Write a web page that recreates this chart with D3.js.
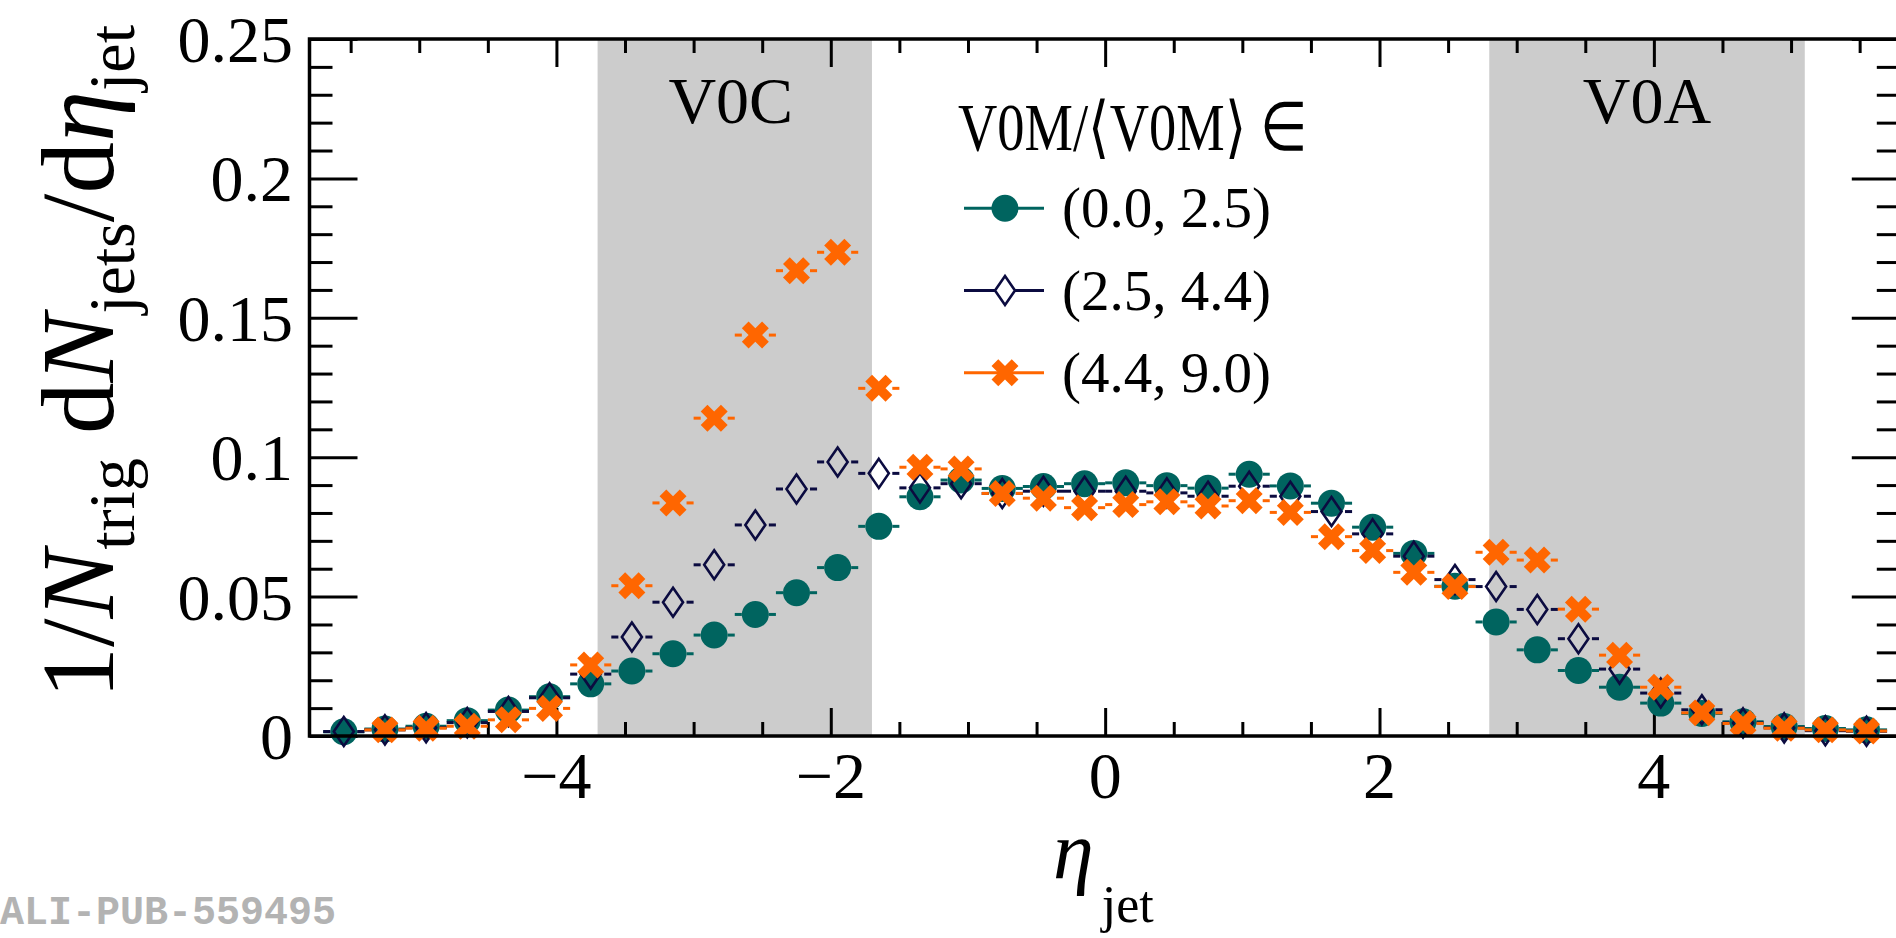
<!DOCTYPE html>
<html><head><meta charset="utf-8">
<script src="https://cdn.jsdelivr.net/npm/d3@7"></script>
<style>
html,body{margin:0;padding:0;background:#fff;overflow:hidden}
svg{display:block}
.serif{font-family:"Liberation Serif","Times New Roman",serif}
.mono{font-family:"Liberation Mono","Courier New",monospace}
</style></head><body>
<svg id="chart" width="1896" height="938"></svg>
<script>
// ---------------- data ----------------
const etaCenters = [-5.55,-5.25,-4.95,-4.65,-4.35,-4.05,-3.75,-3.45,-3.15,-2.85,-2.55,-2.25,-1.95,-1.65,-1.35,-1.05,-0.75,-0.45,-0.15,
                     0.15,0.45,0.75,1.05,1.35,1.65,1.95,2.25,2.55,2.85,3.15,3.45,3.75,4.05,4.35,4.65,4.95,5.25,5.55];
const binHalfWidth = 0.15;
const seriesLabels = ["(0.0, 2.5)", "(2.5, 4.4)", "(4.4, 9.0)"];
const valsLow  = [0.0015,0.0025,0.0035,0.0055,0.0093,0.0141,0.0187,0.0233,0.0295,0.0362,0.0436,0.0514,0.0604,0.0752,0.0858,0.0918,0.0888,0.0895,0.0905,
                  0.0908,0.0898,0.0889,0.0939,0.0897,0.0835,0.0749,0.0655,0.0537,0.0409,0.0309,0.0235,0.0175,0.0118,0.0081,0.0051,0.0034,0.0027,0.0022];
const valsMid  = [0.0016,0.0022,0.0030,0.0048,0.0088,0.0137,0.0222,0.0355,0.0480,0.0614,0.0757,0.0886,0.0983,0.0942,0.0890,0.0905,0.0870,0.0878,0.0878,
                  0.0878,0.0872,0.0860,0.0896,0.0860,0.0805,0.0725,0.0645,0.0561,0.0536,0.0454,0.0349,0.0240,0.0154,0.0094,0.0047,0.0029,0.0019,0.0017];
const valsHigh = [null,0.0022,0.0028,0.0035,0.0058,0.0099,0.0255,0.0539,0.0836,0.1140,0.1438,0.1669,0.1735,0.1247,0.0964,0.0958,0.0870,0.0853,0.0819,
                  0.0830,0.0840,0.0825,0.0844,0.0802,0.0715,0.0665,0.0587,0.0536,0.0659,0.0631,0.0455,0.0290,0.0175,0.0083,0.0045,0.0028,0.0022,0.0018];
const detectorNames = ["V0C", "V0A"];
const detectorLo = [-3.7, 2.8];
const detectorHi = [-1.7, 5.1];
const xMajorTicks = [-4, -2, 0, 2, 4];
const xTickLabels = ["\u22124", "\u22122", "0", "2", "4"];
const yMajorTicks = [0, 0.05, 0.1, 0.15, 0.2, 0.25];
const yTickLabels = ["0", "0.05", "0.1", "0.15", "0.2", "0.25"];
const xMinorTicks = [-5.5,-5,-4.5,-3.5,-3,-2.5,-1.5,-1,-0.5,0.5,1,1.5,2.5,3,3.5,4.5,5,5.5];
const yMinorTicks = [0.01,0.02,0.03,0.04,0.06,0.07,0.08,0.09,0.11,0.12,0.13,0.14,0.16,0.17,0.18,0.19,0.21,0.22,0.23,0.24];

// ---------------- style ----------------
const C_TEAL = "#00645f", C_NAVY = "#0b0b40", C_ORANGE = "#ff6600", C_BAND = "#cccccc";
const svg = d3.select("#chart");
const x = d3.scaleLinear().domain([-5.8, 5.8]).range([309.5, 1900.8]);
const y = d3.scaleLinear().domain([0, 0.25]).range([736, 39]);
const X0 = x.range()[0], X1 = x.range()[1], Y0 = y.range()[0], Y1 = y.range()[1];

// detector bands
svg.append("g").selectAll("rect").data(detectorNames).join("rect")
  .attr("x", (d,i) => x(detectorLo[i])).attr("width", (d,i) => x(detectorHi[i]) - x(detectorLo[i]))
  .attr("y", Y1).attr("height", Y0 - Y1).attr("fill", C_BAND);
svg.append("g").selectAll("text").data(detectorNames).join("text").attr("class", "serif")
  .attr("x", (d,i) => x((detectorLo[i] + detectorHi[i]) / 2) - (i === 0 ? 4 : 0)).attr("y", 123)
  .attr("text-anchor", "middle").attr("font-size", 66).text(d => d);

// axes (ticks)
function styleAxis(g) { g.select(".domain").remove(); g.selectAll("line").attr("stroke", "#000").attr("stroke-width", 3); }
svg.append("g").attr("transform", `translate(0,${Y0})`).call(d3.axisBottom(x).tickValues(xMinorTicks).tickSize(-14).tickFormat("")).call(styleAxis);
svg.append("g").attr("transform", `translate(0,${Y0})`).call(d3.axisBottom(x).tickValues(xMajorTicks).tickSize(-28).tickFormat("")).call(styleAxis);
svg.append("g").attr("transform", `translate(0,${Y1})`).call(d3.axisTop(x).tickValues(xMinorTicks).tickSize(-14).tickFormat("")).call(styleAxis);
svg.append("g").attr("transform", `translate(0,${Y1})`).call(d3.axisTop(x).tickValues(xMajorTicks).tickSize(-28).tickFormat("")).call(styleAxis);
svg.append("g").attr("transform", `translate(${X0},0)`).call(d3.axisLeft(y).tickValues(yMinorTicks).tickSize(-23).tickFormat("")).call(styleAxis);
svg.append("g").attr("transform", `translate(${X0},0)`).call(d3.axisLeft(y).tickValues(yMajorTicks).tickSize(-48).tickFormat("")).call(styleAxis);
svg.append("g").attr("transform", `translate(${X1},0)`).call(d3.axisRight(y).tickValues(yMinorTicks).tickSize(-24).tickFormat("")).call(styleAxis);
svg.append("g").attr("transform", `translate(${X1},0)`).call(d3.axisRight(y).tickValues(yMajorTicks).tickSize(-49).tickFormat("")).call(styleAxis);

// tick labels
svg.append("g").selectAll("text").data(xMajorTicks).join("text").attr("class", "serif")
  .attr("x", d => x(d)).attr("y", 798).attr("text-anchor", "middle").attr("font-size", 66)
  .text((d,i) => xTickLabels[i]);
svg.append("g").selectAll("text").data(yMajorTicks).join("text").attr("class", "serif")
  .attr("x", 293).attr("y", d => y(d) + 23).attr("text-anchor", "end").attr("font-size", 66)
  .text((d,i) => yTickLabels[i]);

// data series
const series = [
  {vals: valsLow,  color: C_TEAL,   shape: "circle"},
  {vals: valsMid,  color: C_NAVY,   shape: "diamond"},
  {vals: valsHigh, color: C_ORANGE, shape: "x"}
];
const MARK_HALF = 13.5;
const circlePath = d3.symbol().type(d3.symbolCircle).size(Math.PI * MARK_HALF * MARK_HALF)();
const crossPath = d3.symbol().type(d3.symbolCross).size(5 * Math.pow(28.6 / 3, 2))();
const diamondPath = "M0,-14.5L10,0L0,14.5L-10,0Z";
function drawMarker(g, shape, color) {
  if (shape === "circle") g.append("path").attr("d", circlePath).attr("fill", color);
  else if (shape === "diamond") g.append("path").attr("d", diamondPath).attr("fill", "none").attr("stroke", color).attr("stroke-width", 2.6).attr("stroke-linejoin", "miter");
  else g.append("path").attr("d", crossPath).attr("transform", "rotate(45)").attr("fill", color);
}
series.forEach(s => {
  const pts = etaCenters.map((e, i) => ({e, v: s.vals[i]})).filter(p => p.v !== null);
  const g = svg.append("g");
  // horizontal (bin-width) error bars, with a gap for the marker
  g.selectAll("line.l").data(pts).join("line")
    .attr("x1", p => x(p.e - binHalfWidth)).attr("x2", p => x(p.e) - MARK_HALF)
    .attr("y1", p => y(p.v)).attr("y2", p => y(p.v)).attr("stroke", s.color).attr("stroke-width", 3);
  g.selectAll("line.r").data(pts).join("line")
    .attr("x1", p => x(p.e) + MARK_HALF).attr("x2", p => x(p.e + binHalfWidth))
    .attr("y1", p => y(p.v)).attr("y2", p => y(p.v)).attr("stroke", s.color).attr("stroke-width", 3);
  pts.forEach(p => {
    const m = g.append("g").attr("transform", `translate(${x(p.e)},${y(p.v)})`);
    drawMarker(m, s.shape, s.color);
  });
});

// frame
svg.append("rect").attr("x", X0).attr("y", Y1).attr("width", X1 - X0).attr("height", Y0 - Y1)
  .attr("fill", "none").attr("stroke", "#000").attr("stroke-width", 3.5);

// legend
const lg = svg.append("g");
lg.append("text").attr("class", "serif").attr("x", 958).attr("y", 150).attr("font-size", 68)
  .attr("textLength", 349).attr("lengthAdjust", "spacingAndGlyphs")
  .text("V0M/\u27E8V0M\u27E9 \u2208");
series.forEach((s, i) => {
  const cy = 208.3 + 82.2 * i;
  lg.append("line").attr("x1", 964).attr("x2", 1005 - (s.shape === "diamond" ? 10 : 0)).attr("y1", cy).attr("y2", cy).attr("stroke", s.color).attr("stroke-width", 3);
  lg.append("line").attr("x1", 1005 + (s.shape === "diamond" ? 10 : 0)).attr("x2", 1044).attr("y1", cy).attr("y2", cy).attr("stroke", s.color).attr("stroke-width", 3);
  drawMarker(lg.append("g").attr("transform", `translate(1005,${cy})`), s.shape, s.color);
  lg.append("text").attr("class", "serif").attr("x", 1062).attr("y", cy + 19).attr("font-size", 57).text(seriesLabels[i]);
});

// x-axis title
const xt = svg.append("text").attr("class", "serif").attr("x", 1053).attr("y", 878).attr("font-size", 82);
xt.append("tspan").attr("font-style", "italic").text("\u03B7");
xt.append("tspan").attr("font-size", 52).attr("dy", 44).attr("dx", 8).text("jet");

// y-axis title
const F = 103, S = 66, SUB = 21;
const yt = svg.append("text").attr("class", "serif").attr("transform", `translate(113,${Y1 - 14}) rotate(-90)`)
  .attr("text-anchor", "end").attr("font-size", F);
yt.append("tspan").text("1/");
yt.append("tspan").attr("font-style", "italic").text("N");
yt.append("tspan").attr("font-size", S).attr("dy", SUB).text("trig");
yt.append("tspan").attr("dy", -SUB).attr("dx", 24).text("d");
yt.append("tspan").attr("font-style", "italic").text("N");
yt.append("tspan").attr("font-size", S).attr("dy", SUB).text("jets");
yt.append("tspan").attr("dy", -SUB).text("/d");
yt.append("tspan").attr("font-style", "italic").text("\u03B7");
yt.append("tspan").attr("font-size", S).attr("dy", SUB).text("jet");

// watermark
svg.append("text").attr("class", "mono").attr("x", 0).attr("y", 924)
  .attr("font-weight", "bold").attr("font-size", 40).attr("fill", "#b3b3b3").text("ALI-PUB-559495");
</script></body></html>
